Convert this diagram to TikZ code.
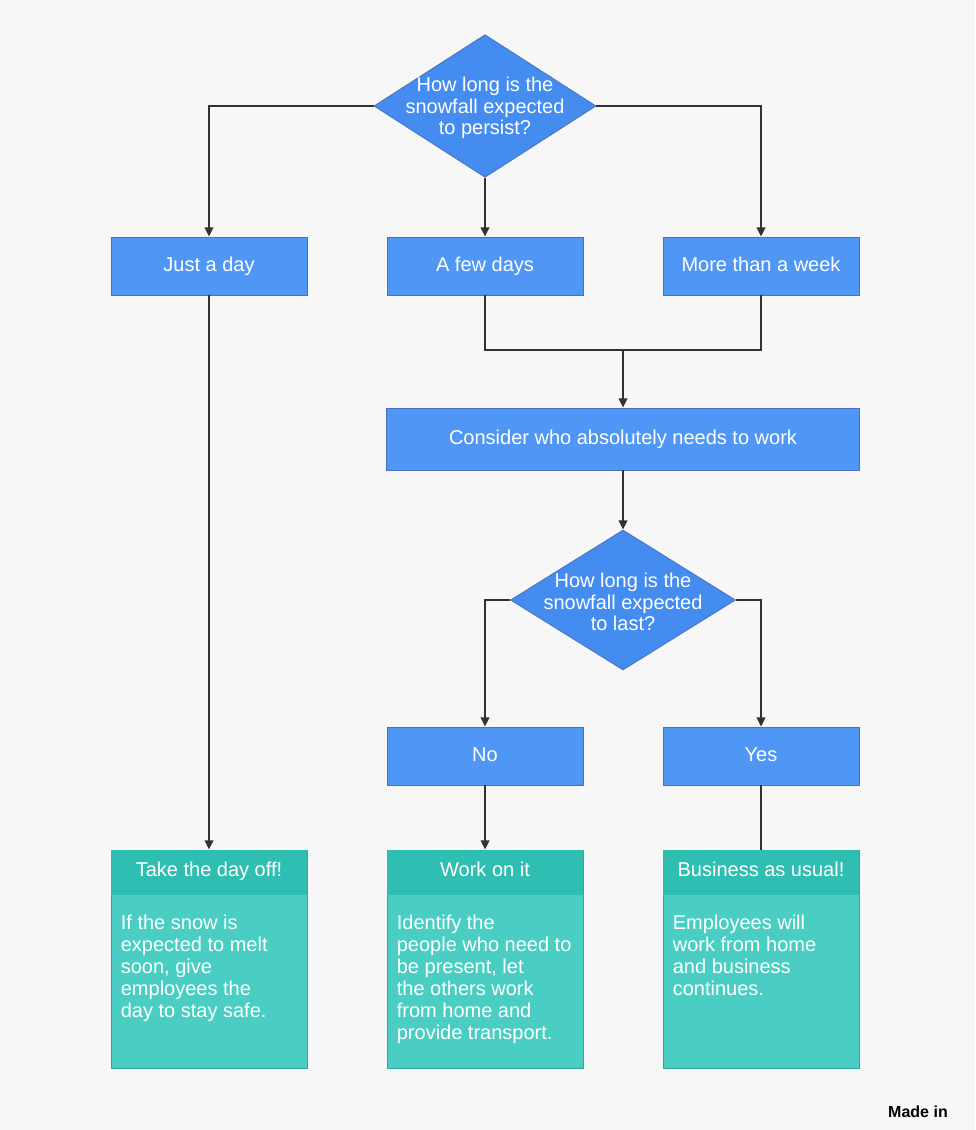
\documentclass[tikz,border=0pt]{standalone}
\usepackage{fontspec}
\setmainfont{Liberation Sans}
\usetikzlibrary{shapes.geometric,arrows.meta}
\definecolor{bg}{RGB}{247,247,247}
\definecolor{boxblue}{RGB}{80,150,245}
\definecolor{diablue}{RGB}{68,140,240}
\definecolor{edgeblue}{RGB}{72,112,190}
\definecolor{tealhead}{RGB}{46,190,178}
\definecolor{tealbody}{RGB}{74,206,196}
\definecolor{tealedge}{RGB}{40,170,160}
\definecolor{lineg}{RGB}{50,50,50}
\begin{document}
\begin{tikzpicture}[x=0.75pt,y=-0.75pt,
  bluebox/.style={draw=edgeblue, line width=0.6pt, fill=boxblue, minimum width=147pt, minimum height=43.5pt, inner sep=0pt, text=white, text height=11pt, text depth=3pt, font=\fontsize{15}{16}\selectfont},
  widebox/.style={bluebox, minimum width=354.75pt, minimum height=46.5pt},
  dia/.style={shape=diamond, draw=edgeblue, line width=0.6pt, fill=diablue, inner sep=0pt},
  diatext/.style={align=center, text=white, font=\fontsize{15}{16}\selectfont},
  endbox/.style={draw=tealedge, line width=0.6pt, fill=tealbody, minimum width=147pt, minimum height=163.5pt, inner sep=0pt},
  headtext/.style={text=white, text height=11pt, text depth=3pt, inner sep=0pt, font=\fontsize{15}{16}\selectfont},
  bodytext/.style={anchor=north west, align=left, text=white, inner sep=0pt, font=\fontsize{15}{16.5}\selectfont},
  conn/.style={draw=lineg, line width=1.4pt},
  arr/.style={conn, -{Triangle[length=7pt,width=6.5pt]}}
]
\useasboundingbox[fill=bg] (0,0) rectangle (975,1130);

% first decision
\node[dia, minimum width=166.5pt, minimum height=107pt] (d1) at (485,106) {};
\node[diatext] (d1t) at ([yshift=-1.5pt]d1.center) {How long is the\\snowfall expected\\to persist?};

% first row
\node[bluebox] (b1) at (209,266) {Just a day};
\node[bluebox] (b2) at (485,266) {A few days};
\node[bluebox] (b3) at (761,266) {More than a week};

% consider
\node[widebox] (c) at (623,439) {Consider who absolutely needs to work};

% second decision
\node[dia, minimum width=168.75pt, minimum height=105pt] (d2) at (623,600) {};
\node[diatext] (d2t) at ([yshift=-1.5pt]d2.center) {How long is the\\snowfall expected\\to last?};

% second row
\node[bluebox] (no) at (485,756) {No};
\node[bluebox] (yes) at (761,756) {Yes};

% end boxes
\node[endbox] (e1) at (209,959) {};
\node[endbox] (e2) at (485,959) {};
\node[endbox] (e3) at (761,959) {};
\foreach \e in {e1,e2,e3}{
  \fill[tealhead] ([xshift=0.3pt,yshift=-0.3pt]\e.north west) rectangle ([xshift=-0.3pt,yshift=-33.75pt]\e.north east);
}
\node[headtext] (h1) at ([yshift=-16pt]e1.north) {Take the day off!};
\node[headtext] (h2) at ([yshift=-16pt]e2.north) {Work on it};
\node[headtext] (h3) at ([yshift=-16pt]e3.north) {Business as usual!};
\node[bodytext] (t1) at ([xshift=7.5pt,yshift=-49pt]e1.north west) {If the snow is\\expected to melt\\soon, give\\employees the\\day to stay safe.};
\node[bodytext] (t2) at ([xshift=7.5pt,yshift=-49pt]e2.north west) {Identify the\\people who need to\\be present, let\\the others work\\from home and\\provide transport.};
\node[bodytext] (t3) at ([xshift=7.5pt,yshift=-49pt]e3.north west) {Employees will\\work from home\\and business\\continues.};

% connectors
\draw[arr] (d1.west) -| (b1.north);
\draw[arr] (d1.east) -| (b3.north);
\draw[arr] (d1.south) -- (b2.north);
\coordinate (j) at (623,350);
\draw[conn] (b2.south) |- (j);
\draw[conn] (b3.south) |- (j);
\draw[arr] (j) -- (c.north);
\draw[arr] (c.south) -- (d2.north);
\draw[arr] (d2.west) -| (no.north);
\draw[arr] (d2.east) -| (yes.north);
\draw[arr] (b1.south) -- (e1.north);
\draw[arr] (no.south) -- (e2.north);
\draw[conn] (yes.south) -- (e3.north);

\node[font=\bfseries\fontsize{12}{14}\selectfont, text=black] (made) at (918,1112) {Made in};
\end{tikzpicture}
\end{document}
